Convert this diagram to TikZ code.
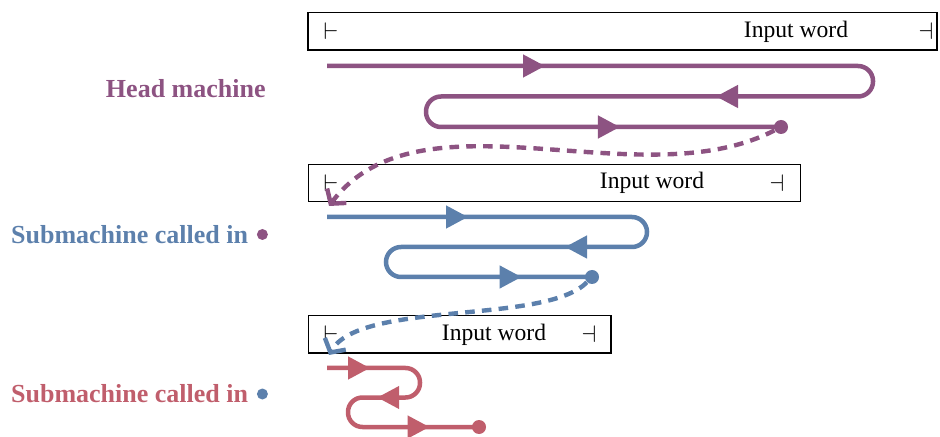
\documentclass[tikz,border=0pt]{standalone}
\usepackage{fontspec}
\setmainfont{Liberation Serif}
\usetikzlibrary{arrows.meta,decorations.markings,positioning}

\definecolor{headc}{RGB}{141,83,130}
\definecolor{subc}{RGB}{92,128,172}
\definecolor{callc}{RGB}{192,94,108}

\begin{document}
\begin{tikzpicture}[
  x=0.5pt, y=-0.5pt,
  tape/.style={draw, line width=0.6pt, inner sep=0pt, minimum height=18.6pt},
  word/.style={font=\fontsize{11.8}{14}\selectfont, inner sep=0pt},
  lab/.style={font=\fontsize{13}{15}\selectfont\bfseries, text=#1, anchor=east, inner sep=0pt},
  dot/.style={circle, fill=#1, inner sep=0pt, minimum size=7pt},
  mdot/.style={circle, fill=#1, inner sep=0pt, minimum size=5.5pt},
  run/.style={draw=#1, line width=2.25pt, rounded corners=7.5pt},
  tips/.style args={#1/#2/#3}{postaction={decorate}, decoration={markings,
      mark=at position #1 with {\arrow{Triangle[length=11pt,width=11pt]}},
      mark=at position #2 with {\arrow{Triangle[length=11pt,width=11pt]}},
      mark=at position #3 with {\arrow{Triangle[length=11pt,width=11pt]}}}},
  hop/.style={draw=#1, line width=2.2pt, dash pattern=on 4.8pt off 3.6pt,
      -{Straight Barb[length=5pt,width=12pt]}}
]
\useasboundingbox (0,0) rectangle (940,437);

% head machine
\node[tape, minimum width=314.5pt] (t1) at (622.5,31.5) {};
\node[word] (l1) at (331,31.5) {$\vdash$};
\node[word] (r1) at (926,31.5) {$\dashv$};
\node[word] (w1) at (796,31.5) {Input word};
\node[lab=headc] (hm) at (266,89) {Head machine};
\coordinate (h0) at (327,66);
\coordinate (h1) at (873,96.5);
\coordinate (h2) at (426,127);
\node[dot=headc] (hd) at (781,127) {};
\draw[run=headc, tips=109pt/360.3pt/611.1pt] (h0) -| (h1) -| (h2) -- (hd.center);

% first call
\node[tape, minimum width=245.9pt] (t2) at (554.2,183) {};
\node[word] (l2) at (331,183) {$\vdash$};
\node[word] (r2) at (777,183) {$\dashv$};
\node[word] (w2) at (652,183) {Input word};
\node[lab=subc] (s1) at (248.5,234.5) {Submachine called in};
\node[mdot=headc, right=4pt of s1] (m1) {};
\coordinate (s0) at (327,217);
\coordinate (b1) at (647,247);
\coordinate (b2) at (386,277);
\node[dot=subc] (sd) at (592,277) {};
\draw[run=subc, tips=70.5pt/209.6pt/375.5pt] (s0) -| (b1) -| (b2) -- (sd.center);

% second call
\node[tape, minimum width=151.3pt] (t3) at (459.7,334.5) {};
\node[word] (l3) at (331,334.5) {$\vdash$};
\node[word] (r3) at (589,334.5) {$\dashv$};
\node[word] (w3) at (494,334.5) {Input word};
\node[lab=callc] (s2) at (248.5,394) {Submachine called in};
\node[mdot=subc, right=4pt of s2] (m2) {};
\coordinate (c0) at (327,368);
\coordinate (e1) at (420,397.5);
\coordinate (e2) at (348,427);
\node[dot=callc] (cd) at (479,427) {};
\draw[run=callc, rounded corners=7.25pt, tips=21.5pt/76.4pt/140.3pt] (c0) -| (e1) -| (e2) -- (cd.center);

% calls
\coordinate (k1) at (329,206);
\coordinate (k2) at (329,355);
\draw[hop=headc] (hd) .. controls (640,200) and (420,85) .. (k1);
\draw[hop=subc] (sd) .. controls (545,325) and (360,300) .. (k2);
\end{tikzpicture}
\end{document}
